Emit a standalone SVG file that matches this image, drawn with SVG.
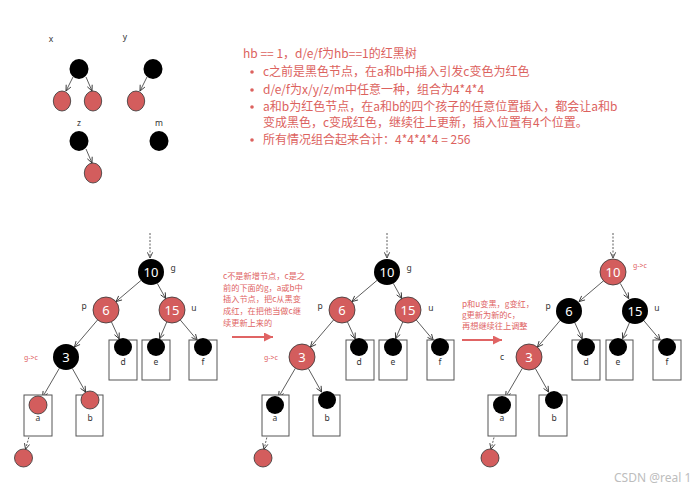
<svg xmlns="http://www.w3.org/2000/svg" width="699" height="492" viewBox="0 0 699 492">
<defs>
<marker id="arr" viewBox="0 0 8 8" refX="7.5" refY="4" markerWidth="7" markerHeight="7" markerUnits="userSpaceOnUse" orient="auto"><path d="M1,1 L7.5,4 L1,7" fill="none" stroke="#333" stroke-width="1"/></marker>
<marker id="rarr" viewBox="0 0 10 10" refX="10" refY="5" markerWidth="9" markerHeight="9" markerUnits="userSpaceOnUse" orient="auto"><path d="M0,0 L10,5 L0,10 Z" fill="#e06464"/></marker>
<style>
.edge{stroke:#333;stroke-width:0.8;fill:none;marker-end:url(#arr)}
.dot{stroke-dasharray:2,1.5}
.blk{fill:#000}
.red{fill:#d35d5d;stroke:#333;stroke-width:0.8}
.box{fill:#fff;stroke:#555;stroke-width:1}
.num{fill:#fff;font-family:"Noto Sans","Noto Sans CJK SC",sans-serif;font-size:13px;text-anchor:middle}
.lbl{fill:#333;font-family:"Noto Sans","Noto Sans CJK SC",sans-serif;font-size:8.5px;text-anchor:middle}
.gc{fill:#e06464;font-family:"Noto Sans","Noto Sans CJK SC",sans-serif;font-size:7px}
.main{fill:#dc625e;font-family:"Noto Sans CJK SC",sans-serif;font-size:12px}
.note{fill:#e06464;font-family:"Noto Sans CJK SC",sans-serif;font-size:8.2px}
.rline{stroke:#e06464;stroke-width:2;fill:none;marker-end:url(#rarr)}
</style>
</defs>
<rect width="699" height="492" fill="#fff"/>

<!-- small example trees -->
<g id="examples">
  <text class="lbl" x="51" y="42">x</text>
  <text class="lbl" x="125" y="40">y</text>
  <text class="lbl" x="79" y="126">z</text>
  <text class="lbl" x="159" y="126">m</text>
  <g id="ex-connectors">
    <path class="edge" d="M73,77 L66,91"/>
    <path class="edge" d="M86,77 L92,91"/>
    <path class="edge" d="M147,77 L140,91"/>
    <path class="edge" d="M86,149 L92,163"/>
  </g>
  <g id="ex-x-root"><ellipse class="blk" cx="79" cy="69" rx="9.5" ry="10"/></g>
  <g id="ex-x-l"><ellipse class="red" cx="62" cy="101" rx="8.7" ry="10"/></g>
  <g id="ex-x-r"><ellipse class="red" cx="93" cy="101" rx="8.7" ry="10"/></g>
  <g id="ex-y-root"><ellipse class="blk" cx="153" cy="69" rx="9.5" ry="10"/></g>
  <g id="ex-y-l"><ellipse class="red" cx="136" cy="101" rx="8.7" ry="10"/></g>
  <g id="ex-z-root"><ellipse class="blk" cx="79" cy="141" rx="9.5" ry="10"/></g>
  <g id="ex-z-r"><ellipse class="red" cx="93" cy="173" rx="8.7" ry="10"/></g>
  <g id="ex-m-root"><ellipse class="blk" cx="159" cy="141" rx="9.5" ry="10"/></g>
</g>

<!-- description text -->
<g id="description">
  <text class="main" x="243" y="58">hb == 1，d/e/f为hb==1的红黑树</text>
  <circle cx="252" cy="72" r="1.8" fill="#dc625e"/>
  <text class="main" x="263" y="76">c之前是黑色节点，在a和b中插入引发c变色为红色</text>
  <circle cx="252" cy="90" r="1.8" fill="#dc625e"/>
  <text class="main" x="263" y="94">d/e/f为x/y/z/m中任意一种，组合为4*4*4</text>
  <circle cx="252" cy="107" r="1.8" fill="#dc625e"/>
  <text class="main" x="263" y="111">a和b为红色节点，在a和b的四个孩子的任意位置插入，都会让a和b</text>
  <text class="main" x="263" y="127">变成黑色，c变成红色，继续往上更新，插入位置有4个位置。</text>
  <circle cx="252" cy="140" r="1.8" fill="#dc625e"/>
  <text class="main" x="263" y="144">所有情况组合起来合计：4*4*4*4 = 256</text>
</g>

<!-- Tree 1 -->
<g id="tree1">
  <g id="t1-connectors">
    <path class="edge dot" d="M150,233 L150,258"/>
    <path class="edge" d="M141,280.4 L116,301.6"/>
    <path class="edge" d="M157.3,283.4 L165.7,298.6"/>
    <path class="edge" d="M97.6,319.9 L74.4,347.1"/>
    <path class="edge" d="M111.4,321.8 L119.2,338.8"/>
    <path class="edge" d="M166.8,321.9 L159.6,338.7"/>
    <path class="edge" d="M180.3,320 L197.2,340.1"/>
    <path class="edge" d="M59.4,368.2 L42.5,397.2"/>
    <path class="edge" d="M72.3,368.4 L85.6,392.1"/>
    <path class="edge dot" d="M35.5,413.7 L25.5,449.3"/>
  </g>
  <g id="t1-n10"><circle class="blk" cx="151" cy="272" r="13"/><text class="num" x="151" y="277">10</text><text class="lbl" x="173" y="271">g</text></g>
  <g id="t1-n6"><circle class="red" cx="106" cy="310" r="13"/><text class="num" x="106" y="315">6</text><text class="lbl" x="84" y="309">p</text></g>
  <g id="t1-n15"><circle class="red" cx="172" cy="310" r="13"/><text class="num" x="172" y="315">15</text><text class="lbl" x="194" y="311">u</text></g>
  <g id="t1-n3"><circle class="blk" cx="66" cy="357" r="13"/><text class="num" x="66" y="362">3</text><text class="gc" x="24" y="360">g-&gt;c</text></g>
  <g id="t1-d"><rect class="box" x="109" y="340" width="28" height="40"/><circle class="blk" cx="123" cy="347" r="9"/><text class="lbl" x="123" y="365">d</text></g>
  <g id="t1-e"><rect class="box" x="142" y="340" width="28" height="40"/><circle class="blk" cx="156" cy="347" r="9"/><text class="lbl" x="156" y="365">e</text></g>
  <g id="t1-f"><rect class="box" x="189" y="340" width="28" height="40"/><circle class="blk" cx="203" cy="347" r="9"/><text class="lbl" x="203" y="365">f</text></g>
  <g id="t1-a"><rect class="box" x="24" y="395" width="28" height="41"/><circle class="red" cx="38" cy="405" r="9"/><text class="lbl" x="38" y="421">a</text></g>
  <g id="t1-b"><rect class="box" x="76" y="395" width="27" height="41"/><circle class="red" cx="90" cy="400" r="9"/><text class="lbl" x="90" y="421">b</text></g>
  <g id="t1-new"><circle class="red" cx="23.5" cy="458" r="9"/></g>
</g>

<!-- note 1 -->
<g id="note1">
  <text class="note" x="223" y="279">c不是新增节点，c是之</text>
  <text class="note" x="223" y="290.5">前的下面的g，a或b中</text>
  <text class="note" x="223" y="302">插入节点，把c从黑变</text>
  <text class="note" x="223" y="314">成红，在把他当做c继</text>
  <text class="note" x="223" y="325.5">续更新上来的</text>
  <path class="rline" d="M232,337 L273,337"/>
</g>

<!-- Tree 2 -->
<g id="tree2" transform="translate(236,0)">
  <g id="t2-connectors">
    <path class="edge dot" d="M151,233 L151,258"/>
    <path class="edge" d="M141,280.4 L116,301.6"/>
    <path class="edge" d="M157.3,283.4 L165.7,298.6"/>
    <path class="edge" d="M97.6,319.9 L74.4,347.1"/>
    <path class="edge" d="M111.4,321.8 L119.2,338.8"/>
    <path class="edge" d="M166.8,321.9 L159.6,338.7"/>
    <path class="edge" d="M180.3,320 L197.2,340.1"/>
    <path class="edge" d="M59.4,368.2 L42.5,397.2"/>
    <path class="edge" d="M72.3,368.4 L85.6,392.1"/>
    <path class="edge dot" d="M36.5,413.7 L28,449.3"/>
  </g>
  <g id="t2-n10"><circle class="blk" cx="151" cy="272" r="13"/><text class="num" x="151" y="277">10</text><text class="lbl" x="173" y="271">g</text></g>
  <g id="t2-n6"><circle class="red" cx="106" cy="310" r="13"/><text class="num" x="106" y="315">6</text><text class="lbl" x="84" y="309">p</text></g>
  <g id="t2-n15"><circle class="red" cx="172" cy="310" r="13"/><text class="num" x="172" y="315">15</text><text class="lbl" x="195" y="311">u</text></g>
  <g id="t2-n3"><circle class="red" cx="66" cy="357" r="13"/><text class="num" x="66" y="362">3</text><text class="gc" x="28" y="360">g-&gt;c</text></g>
  <g id="t2-d"><rect class="box" x="110" y="340" width="28" height="40"/><circle class="blk" cx="123" cy="347" r="9"/><text class="lbl" x="123" y="365">d</text></g>
  <g id="t2-e"><rect class="box" x="143" y="340" width="28" height="40"/><circle class="blk" cx="157" cy="347" r="9"/><text class="lbl" x="157" y="365">e</text></g>
  <g id="t2-f"><rect class="box" x="191" y="340" width="27" height="40"/><circle class="blk" cx="204" cy="347" r="9"/><text class="lbl" x="204" y="365">f</text></g>
  <g id="t2-a"><rect class="box" x="26" y="395" width="27" height="41"/><circle class="blk" cx="39" cy="405" r="9"/><text class="lbl" x="39" y="421">a</text></g>
  <g id="t2-b"><rect class="box" x="77" y="395" width="27" height="41"/><circle class="blk" cx="91" cy="400" r="9"/><text class="lbl" x="91" y="421">b</text></g>
  <g id="t2-new"><circle class="red" cx="27" cy="458" r="9"/></g>
</g>

<!-- note 2 -->
<g id="note2">
  <text class="note" x="462" y="307">p和u变黑，g变红，</text>
  <text class="note" x="462" y="318">g更新为新的c，</text>
  <text class="note" x="462" y="329">再想继续往上调整</text>
  <path class="rline" d="M462,340 L502,340"/>
</g>

<!-- Tree 3 -->
<g id="tree3" transform="translate(463,0)">
  <g id="t3-connectors">
    <path class="edge dot" d="M150,233 L150,258"/>
    <path class="edge" d="M141,280.4 L116,301.6"/>
    <path class="edge" d="M157.3,283.4 L165.7,298.6"/>
    <path class="edge" d="M97.6,319.9 L74.4,347.1"/>
    <path class="edge" d="M111.4,321.8 L119.2,338.8"/>
    <path class="edge" d="M166.8,321.9 L159.6,338.7"/>
    <path class="edge" d="M180.3,320 L197.2,340.1"/>
    <path class="edge" d="M59.4,368.2 L42.5,397.2"/>
    <path class="edge" d="M72.3,368.4 L85.6,392.1"/>
    <path class="edge dot" d="M37,413.7 L28,449.3"/>
  </g>
  <g id="t3-n10"><circle class="red" cx="150" cy="272" r="13"/><text class="num" x="150" y="277">10</text><text class="gc" x="170" y="268">g-&gt;c</text></g>
  <g id="t3-n6"><circle class="blk" cx="106" cy="311" r="13"/><text class="num" x="106" y="316">6</text><text class="lbl" x="85" y="309">p</text></g>
  <g id="t3-n15"><circle class="blk" cx="172" cy="311" r="13"/><text class="num" x="172" y="316">15</text><text class="lbl" x="194" y="311">u</text></g>
  <g id="t3-n3"><circle class="red" cx="66" cy="357" r="13"/><text class="num" x="66" y="362">3</text><text class="lbl" x="39" y="360">c</text></g>
  <g id="t3-d"><rect class="box" x="109" y="340" width="28" height="40"/><circle class="blk" cx="123" cy="347" r="9"/><text class="lbl" x="123" y="365">d</text></g>
  <g id="t3-e"><rect class="box" x="143" y="340" width="27" height="40"/><circle class="blk" cx="155" cy="347" r="9"/><text class="lbl" x="155" y="365">e</text></g>
  <g id="t3-f"><rect class="box" x="190" y="340" width="28" height="40"/><circle class="blk" cx="204" cy="347" r="9"/><text class="lbl" x="204" y="365">f</text></g>
  <g id="t3-a"><rect class="box" x="25" y="395" width="28" height="41"/><circle class="blk" cx="39" cy="405" r="9"/><text class="lbl" x="39" y="421">a</text></g>
  <g id="t3-b"><rect class="box" x="76" y="395" width="28" height="41"/><circle class="blk" cx="91" cy="400" r="9"/><text class="lbl" x="91" y="421">b</text></g>
  <g id="t3-new"><circle class="red" cx="27" cy="458" r="9"/></g>
</g>

<text x="614" y="482" fill="#bdbdbd" font-family="'Noto Sans','DejaVu Sans',sans-serif" font-size="12">CSDN @real 1</text>
</svg>
